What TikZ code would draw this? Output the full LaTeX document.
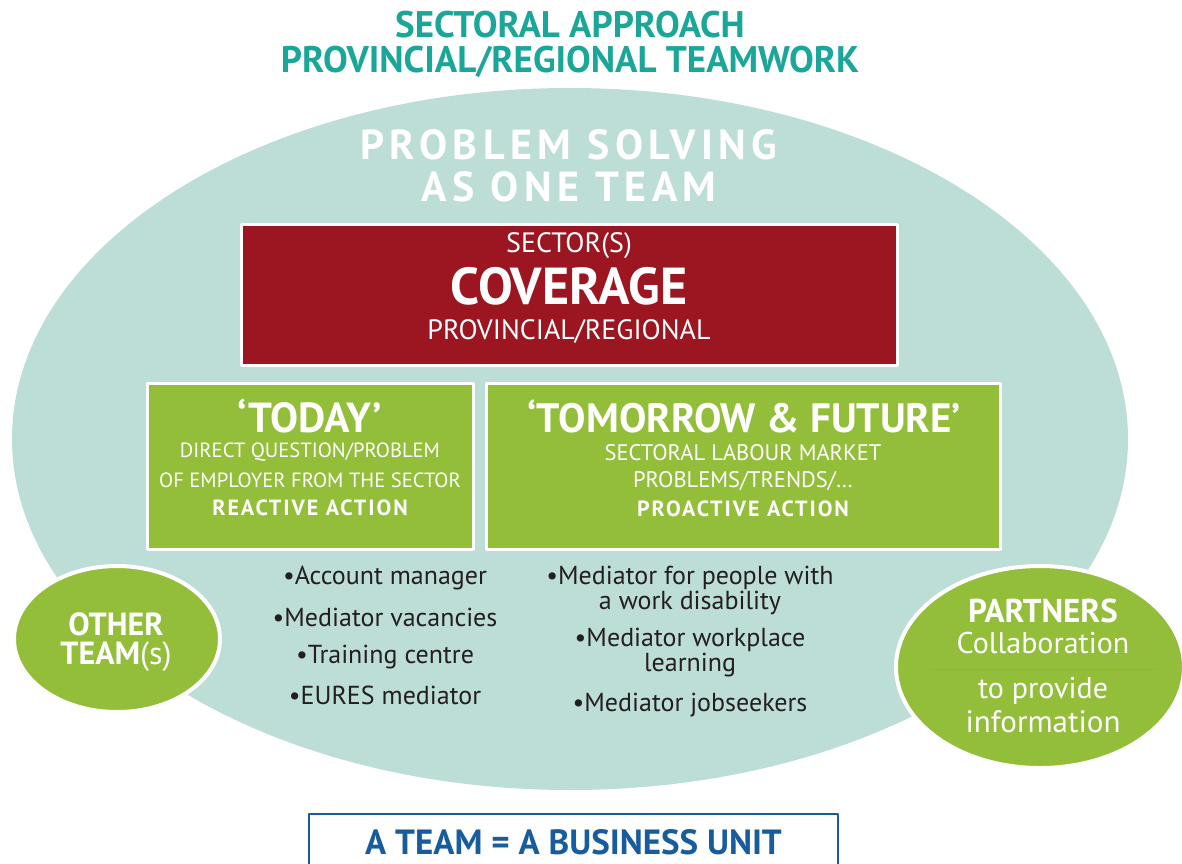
\documentclass[tikz,border=0pt]{standalone}
\usepackage{fontspec}
\setmainfont{PT Sans}
\newfontfamily\spacedfont[LetterSpace=13]{PT Sans}
\newfontfamily\widefont[LetterSpace=9]{PT Sans}
\usetikzlibrary{shapes.geometric}
\definecolor{titleteal}{RGB}{26,166,152}
\definecolor{bgteal}{RGB}{189,221,215}
\definecolor{covred}{RGB}{155,22,32}
\definecolor{leafgreen}{RGB}{147,190,58}
\definecolor{unitblue}{RGB}{24,92,156}
\definecolor{sepblue}{RGB}{90,180,210}
\definecolor{textdark}{RGB}{35,31,32}
\newcommand{\fs}[1]{\fontsize{#1}{#1}\selectfont}
\begin{document}
\begin{tikzpicture}[x=1pt, y=-1pt, line join=round,
		txt/.style={inner sep=0pt, text=white},
		card/.style={draw=white, line width=3pt, inner sep=0pt},
		blob/.style={ellipse, fill=leafgreen, draw=white, line width=4pt, inner sep=0pt},
		item/.style={inner sep=0pt, text=textdark, font=\fontsize{26}{25}\selectfont, align=center}]
		\useasboundingbox (0,0) rectangle (1182,863);
		\clip (0,0) rectangle (1182,863);
		% title
		\node[txt, text=titleteal, font=\fs{37}\bfseries] (head1) at (570,25) {SECTORAL APPROACH};
		\node[txt, text=titleteal, font=\fs{37}\bfseries] (head2) at (570,62) {PROVINCIAL/REGIONAL TEAMWORK};
		% big team ellipse
		\fill[bgteal] (570,439) ellipse [x radius=558pt, y radius=351pt];
		\node[txt, font=\fs{42}\spacedfont\bfseries] (solve1) at (569,145) {PROBLEM SOLVING};
		\node[txt, font=\fs{42}\spacedfont\bfseries] (solve2) at (569,187) {AS ONE TEAM};
		% coverage
		\node[card, fill=covred, minimum width=656, minimum height=141] (cov) at (569,294.5) {};
		\node[txt, font=\fs{28}] (cov1) at (569,246) {SECTOR(S)};
		\node[txt, font=\fs{52}\bfseries] (cov2) at (569,286) {COVERAGE};
		\node[txt, font=\fs{28}] (cov3) at (569,331) {PROVINCIAL/REGIONAL};
		% today / tomorrow
		\node[card, fill=leafgreen, minimum width=326, minimum height=166] (today) at (310,466) {};
		\node[card, fill=leafgreen, minimum width=514, minimum height=166] (future) at (743,466) {};
		\node[txt, font=\fs{42}\bfseries] (today1) at (310,416) {‘TODAY’};
		\node[txt, font=\fs{20.6}] (today2) at (310,452) {DIRECT QUESTION/PROBLEM};
		\node[txt, font=\fs{20.6}] (today3) at (310,480) {OF EMPLOYER FROM THE SECTOR};
		\node[txt, font=\fs{22}\widefont\bfseries] (today4) at (310,508) {REACTIVE ACTION};
		\node[txt, font=\fs{41}\bfseries] (future1) at (744,416) {‘TOMORROW \& FUTURE’};
		\node[txt, font=\fs{22.5}] (future2) at (743,453) {SECTORAL LABOUR MARKET};
		\node[txt, font=\fs{22.5}] (future3) at (743,481) {PROBLEMS/TRENDS/…};
		\node[txt, font=\fs{22}\widefont\bfseries] (future4) at (743,509) {PROACTIVE ACTION};
		% roles
		\foreach \t/\y/\n in {Account manager/578/a, Mediator vacancies/617/b,
				Training centre/657/c, EURES mediator/695/d}
		\node[item] (left\n) at (385,\y) {•\t};
		\node[item] (right1) at (690,590) {•Mediator for people with\\a work disability};
		\node[item] (right2) at (690,653) {•Mediator workplace\\learning};
		\node[item] (right3) at (690,705) {•Mediator jobseekers};
		% other teams and partners
		\node[blob, minimum width=206, minimum height=146] (other) at (117,639) {};
		\node[txt, font=\fs{32}\bfseries] (other1) at (116,624) {OTHER};
		\node[txt, font=\fs{32}\bfseries] (other2) at (116,657) {TEAM\mdseries(s)};
		\node[blob, minimum width=288, minimum height=202] (partner) at (1040,667) {};
		\node[txt, font=\fs{33}\bfseries] (partner1) at (1043,611) {PARTNERS};
		\node[txt, font=\fs{30}] (partner2) at (1043,643) {Collaboration};
		\node[txt, font=\fs{30}] (partner3) at (1043,691) {to provide};
		\node[txt, font=\fs{31}] (partner4) at (1043,722) {information};
		\draw[sepblue, line width=1pt] (930,669) -- (1156,669);
		% business unit
		\node[draw=unitblue, line width=1.5pt, minimum width=529, minimum height=70, anchor=north] (unit) at (573.5,813) {};
		\node[txt, text=unitblue, font=\fs{35}\bfseries] (unit1) at (573.5,842) {A TEAM = A BUSINESS UNIT};
\end{tikzpicture}
\end{document}
